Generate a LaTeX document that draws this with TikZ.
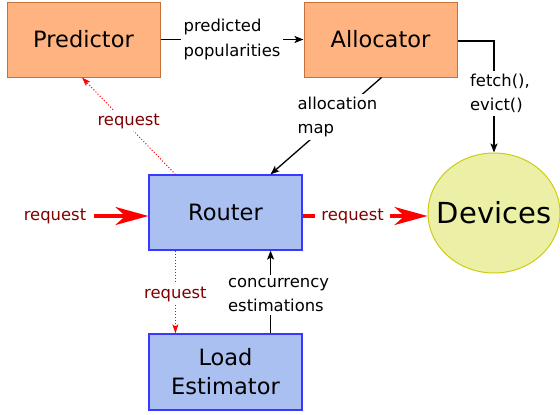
\documentclass[tikz,border=0pt]{standalone}
\usepackage{fontspec}
\setmainfont{DejaVu Sans}
\usetikzlibrary{arrows.meta,shapes.geometric}
\definecolor{ofill}{HTML}{FFB380}
\definecolor{oline}{HTML}{C8703A}
\definecolor{bfill}{HTML}{AAC0F0}
\definecolor{bline}{HTML}{3838FF}
\definecolor{yfill}{HTML}{ECF0A6}
\definecolor{yline}{HTML}{CCCC10}
\definecolor{dred}{HTML}{800000}
\tikzset{
  obox/.style={draw=oline, fill=ofill, line width=1pt, minimum width=153pt, minimum height=75pt, font=\fontsize{22.5}{28}\selectfont, inner sep=0pt},
  bbox/.style={draw=bline, fill=bfill, line width=1.2pt, minimum width=153pt, minimum height=75pt, font=\fontsize{22.5}{29}\selectfont, align=center, inner sep=0pt},
  elab/.style={font=\fontsize{16.4}{24.5}\selectfont, align=left, inner sep=3pt},
  rlab/.style={elab, text=dred, inner xsep=6pt},
  blk/.style={draw=black, line width=1.3pt, -{Stealth[length=9pt,width=7pt,inset=2pt]}},
  rdot/.style={draw=red, line width=1pt, dotted, -{Stealth[length=9pt,width=6pt,inset=2pt]}},
  bigred/.style={draw=red, line width=3.6pt, -{Stealth[length=33pt,width=18pt,inset=10pt]}},
}
\begin{document}
\begin{tikzpicture}[x=1pt,y=-1pt]
\useasboundingbox (0,0) rectangle (560,415);
\node[obox] (P) at (83.5,39.5) {Predictor};
\node[obox] (A) at (380.5,39.5) {Allocator};
\node[bbox] (R) at (225.5,212.5) {Router};
\node[bbox, minimum height=76pt] (L) at (225.5,372) {Load\\Estimator};
\node[ellipse, draw=yline, fill=yfill, line width=1pt, minimum width=132pt, minimum height=120pt, inner sep=0pt, font=\fontsize{29}{34}\selectfont] (D) at (494,213) {\makebox[0pt]{Devices}};
\coordinate (rq) at (0,216);
% Predictor -> Allocator
\draw[blk] (P.east) -- node[midway, fill=white, elab] {predicted\\popularities} (A.west);
% Allocator -> Devices
\draw[blk] ([yshift=-1.5pt]A.east) -| node[pos=0.735, fill=white, elab, xshift=6pt] {fetch(),\\evict()} (D.north);
% Allocator -> Router
\draw[blk] ([xshift=1pt]A.south) -- node[midway, fill=white, elab, xshift=11.5pt, yshift=9pt] {allocation\\map} ([xshift=45pt]R.north);
% Router -> Predictor (dotted)
\draw[rdot] ([xshift=27pt]R.north west) -- node[midway, fill=white, rlab, inner xsep=3pt, yshift=5pt] {request} ([xshift=-1.5pt]P.south);
% incoming request
\node[rlab] (rin) at (55,216) {request};
\draw[bigred] ([xshift=2pt]rin.east) -- (R.west |- rq);
% Router -> Devices
\draw[bigred] (R.east |- rq) -- node[pos=0.4, fill=white, rlab] {request} (D.west |- rq);
% Router -> Load Estimator (dotted)
\draw[rdot] ([xshift=27pt]R.south west) -- node[midway, fill=white, rlab, inner xsep=3pt, yshift=-2pt] {request} ([xshift=27pt]L.north west);
% Load Estimator -> Router
\draw[blk] ([xshift=-32pt]L.north east) -- node[midway, fill=white, elab, xshift=8pt, yshift=-3pt] {concurrency\\estimations} ([xshift=-32pt]R.south east);
\end{tikzpicture}
\end{document}
